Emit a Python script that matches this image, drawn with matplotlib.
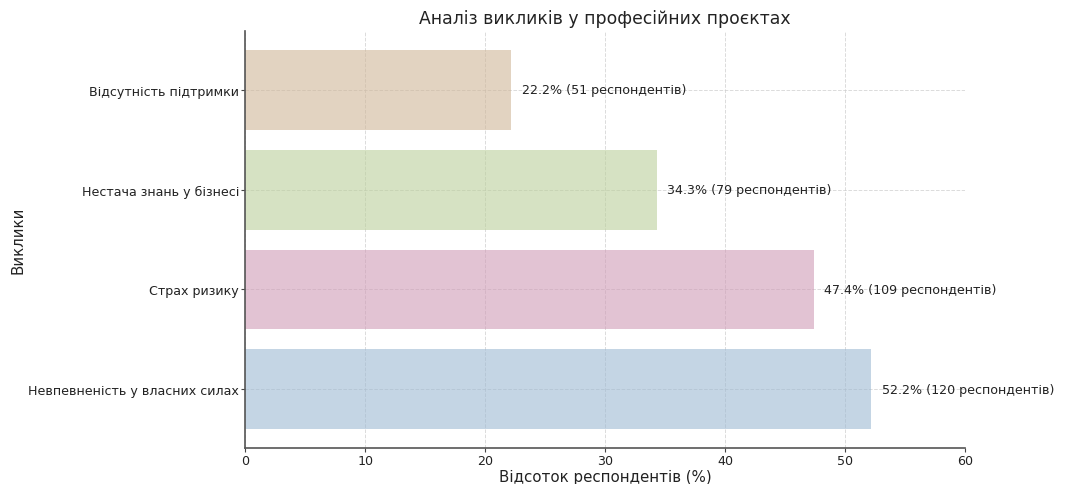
import matplotlib
matplotlib.use("Agg")
import matplotlib.pyplot as plt

# Challenges in professional projects survey
categories = [
    "Невпевненість у власних силах",
    "Страх ризику",
    "Нестача знань у бізнесі",
    "Відсутність підтримки",
]
percentages = [52.2, 47.4, 34.3, 22.2]
respondents = [120, 109, 79, 51]
colors = ["#9eb9d2", "#d09bb7", "#bbd09b", "#d0b799"]

plt.rcParams["font.family"] = ["DejaVu Sans"]

fig, ax = plt.subplots(figsize=(10.66, 4.85), dpi=100)
fig.subplots_adjust(left=0.230, right=0.905, top=0.934, bottom=0.074)

ax.grid(True, linestyle="--", color="#cccccc", linewidth=0.7, alpha=0.7, zorder=0)
ax.set_axisbelow(True)
ax.barh(categories, percentages, color=colors, alpha=0.6, height=0.8, zorder=2)

for i, (p, n) in enumerate(zip(percentages, respondents)):
    ax.text(p + 0.9, i, f"{p}% ({n} респондентів)", va="center", ha="left",
            fontsize=9.1, color="#222222", zorder=3)

ax.set_xlim(0, 60)
ax.set_xticks(range(0, 61, 10))

for side in ("top", "right"):
    ax.spines[side].set_visible(False)
for side in ("left", "bottom"):
    ax.spines[side].set_color("#555555")
    ax.spines[side].set_linewidth(1.2)

ax.tick_params(axis="both", labelsize=9.1, colors="#444444", labelcolor="#222222",
               length=3, pad=1.5)
ax.set_title("Аналіз викликів у професійних проєктах", fontsize=12.4, color="#222222", pad=6)
ax.set_xlabel("Відсоток респондентів (%)", fontsize=10.8, color="#222222", labelpad=1)
ax.set_ylabel("Виклики", fontsize=10.8, color="#222222")
ax.yaxis.set_label_coords(-0.305, 0.5)

fig.savefig("out.png", dpi=100)
